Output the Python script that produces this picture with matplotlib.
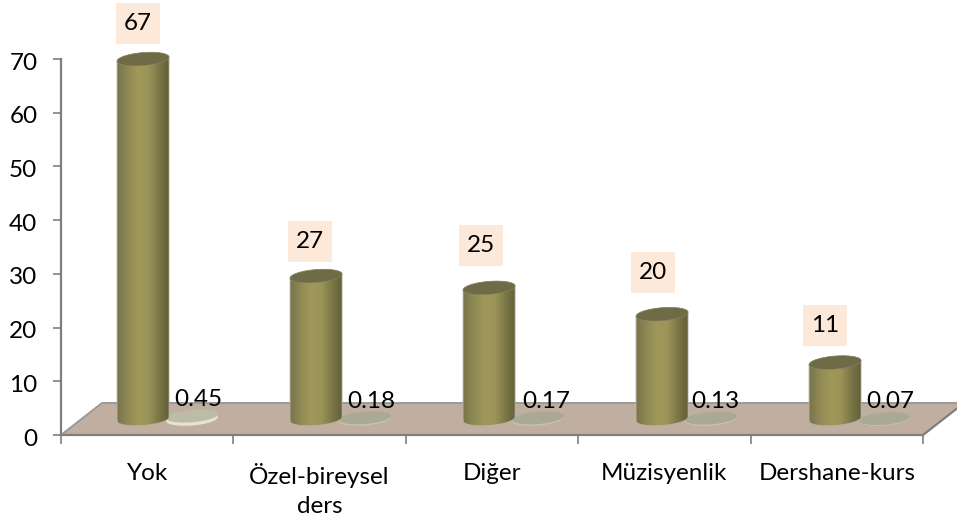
import numpy as np
import matplotlib.pyplot as plt
from matplotlib.colors import LinearSegmentedColormap
from matplotlib.patches import Polygon, Rectangle
from matplotlib.transforms import ScaledTranslation

plt.rcParams['font.family'] = ['Lato', 'DejaVu Sans']

# Dados
categorias = ["Yok", "Özel-bireysel\nders", "Diğer", "Müzisyenlik", "Dershane-kurs"]
alturas = [67, 26.6, 24.4, 19.5, 10.5]
rotulos = ["67", "27", "25", "20", "11"]
valores_b = [0.45, 0.18, 0.17, 0.13, 0.07]
rotulos_b = ["0.45", "0.18", "0.17", "0.13", "0.07"]
y_ticks = [0, 10, 20, 30, 40, 50, 60, 70]

# Ajustes finos dos rotulos (pixels)
desloc_a = [(-5, 36), (-6, 35), (-8, 42), (-9, 42), (-10, 37)]
desloc_b = [(6, 22), (6, 20), (8, 20), (4, 20), (6, 20)]

W, H = 957, 518
x0, x1, y0, y1 = 61, 923, 435, 59

fig = plt.figure(figsize=(W / 100, H / 100), dpi=100)
ax = fig.add_axes([x0 / W, (H - y0) / H, (x1 - x0) / W, (y0 - y1) / H])
ax.patch.set_visible(False)

px_x = 5 / (x1 - x0)    # unidade de dados por pixel
px_y = 70 / (y0 - y1)
cinza = "#7f7f7f"
passo = 173 * px_x

# Chao
prof_x, prof_y = 41 * px_x, 32 * px_y
chao = [(0, 0), (5, 0), (5 + prof_x, prof_y), (prof_x, prof_y)]
ax.add_patch(Polygon(chao, closed=True, facecolor="#c0aea0", edgecolor="none",
                     clip_on=False, zorder=1))
ax.plot([0, prof_x, 5 + prof_x], [0, prof_y, prof_y], color="#9a9a9a", lw=1.4,
        clip_on=False, zorder=1.5)
ax.plot([5, 5 + prof_x], [0, prof_y], color=cinza, lw=1.6, clip_on=False, zorder=1.5)

cmap_barra = LinearSegmentedColormap.from_list(
    "barra", ["#79744a", "#8e8856", "#a09858", "#9c9559", "#7d7849", "#625e38"])


def elipse(cx, cy, rx, ry, tilt, n=90):
    t = np.linspace(0, 2 * np.pi, n)
    return np.column_stack([cx + rx * np.cos(t),
                            cy + ry * np.sin(t) + tilt * np.cos(t)])


def cilindro(cx, altura, base, rx, ry, tilt, z):
    topo = base + altura
    t = np.linspace(np.pi, 2 * np.pi, 50)
    fundo = np.column_stack([cx + rx * np.cos(t), base + ry * np.sin(t) + tilt * np.cos(t)])
    t2 = np.linspace(0, np.pi, 50)
    cima = np.column_stack([cx + rx * np.cos(t2), topo + ry * np.sin(t2) + tilt * np.cos(t2)])
    corpo = Polygon(np.vstack([fundo, cima]), closed=True, transform=ax.transData,
                    facecolor="none", edgecolor="none")
    ax.add_patch(corpo)
    img = ax.imshow(np.linspace(0, 1, 256).reshape(1, -1), cmap=cmap_barra, aspect="auto",
                    extent=(cx - rx, cx + rx, base - 2 * ry, topo + 2 * ry), zorder=z)
    img.set_clip_path(corpo)
    contorno = np.vstack([fundo, cima, fundo[:1]])
    ax.plot(contorno[:, 0], contorno[:, 1], color="#b5b3a0", lw=0.6, clip_on=False, zorder=z + 0.05)
    ax.add_patch(Polygon(elipse(cx, topo, rx, ry, tilt), closed=True, facecolor="#6f6b46",
                         edgecolor="#8a8766", lw=0.4, clip_on=False, zorder=z + 0.1))


base = 16 * px_y
rx, ry, tilt = 26 * px_x, 6.5 * px_y, 2 * px_y
caixa_w, caixa_h = 44 * px_x, 41 * px_y

for i, v in enumerate(alturas):
    cx = i * passo + 0.476
    cilindro(cx, v, base, rx, ry, tilt, 3)
    dx, dy = desloc_a[i]
    tx, ty = cx + dx * px_x, base + v + dy * px_y
    ax.add_patch(Rectangle((tx - caixa_w / 2, ty - caixa_h / 2), caixa_w, caixa_h,
                           facecolor="#fde9d9", edgecolor="none", clip_on=False, zorder=5))
    ax.text(tx, ty, rotulos[i], ha="center", va="center",
            fontsize=17.5, color="black", clip_on=False, zorder=6)

for i, v in enumerate(valores_b):
    cx = i * passo + 0.76
    borda = "#e6e4cc" if i == 0 else "#c6c4af"
    ax.add_patch(Polygon(elipse(cx, base, rx, ry, tilt), closed=True, facecolor=borda,
                         edgecolor="none", clip_on=False, zorder=2))
    cor = "#bdbda6" if i == 0 else "#a9a994"
    ax.add_patch(Polygon(elipse(cx, base + v * 1.2, rx, ry * 0.95, tilt), closed=True,
                         facecolor=cor, edgecolor="none", clip_on=False, zorder=2.1))
    dx, dy = desloc_b[i]
    ax.text(cx + dx * px_x, base + dy * px_y - 2 * px_y, rotulos_b[i], ha="center", va="center",
            fontsize=17.5, color="black", clip_on=False, zorder=6)

# Eixos
ax.set_xlim(0, 5)
ax.set_ylim(0, 70)
for lado in ["top", "right"]:
    ax.spines[lado].set_visible(False)
for lado in ["left", "bottom"]:
    ax.spines[lado].set_color(cinza)
    ax.spines[lado].set_linewidth(1.6)
ax.set_yticks(y_ticks)
ax.set_xticks(range(6))
ax.set_xticklabels([])
ax.set_xticks(np.arange(5) + 0.5, categorias, minor=True, linespacing=1.5)
ax.tick_params(axis="x", which="major", length=6.5, width=1.2, color=cinza)
ax.tick_params(axis="x", which="minor", length=0, pad=20, labelsize=17.5)
ax.tick_params(axis="y", length=6, width=1.2, color=cinza, labelsize=17.5, pad=11)

desce = ScaledTranslation(0, -1.5 / 72, fig.dpi_scale_trans)
for lbl in ax.get_yticklabels():
    lbl.set_transform(lbl.get_transform() + desce)

fig.savefig("out.png", dpi=100)
